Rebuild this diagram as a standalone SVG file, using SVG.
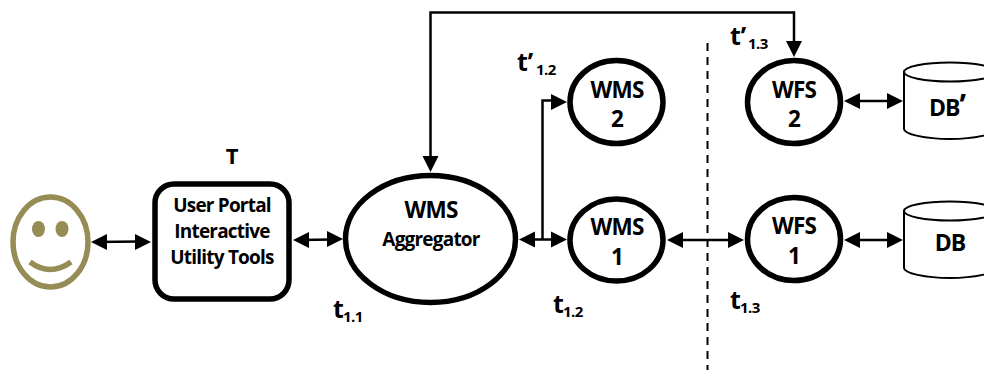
<svg xmlns="http://www.w3.org/2000/svg" width="984" height="370" viewBox="0 0 984 370">
<style>
text{font-family:"Open Sans","Noto Sans","Liberation Sans",sans-serif;font-weight:700;fill:#000;text-anchor:middle}
.n{font-size:22.500px;letter-spacing:-.8px}
.s{font-size:19px;letter-spacing:-.8px}
.t{font-size:25px;text-anchor:start}
.sub{font-size:15px;text-anchor:start;letter-spacing:-.5px}
.shape{fill:#fff;stroke:#000;stroke-width:5.500}
.cyl{fill:#fff;stroke:#000;stroke-width:2}
.c{fill:none;stroke:#000;stroke-width:2.500}
.a{fill:#000;stroke:none}
</style>
<defs>
<path id="r" class="a" d="M0 0L-16 -8V8Z"/>
<path id="l" class="a" d="M0 0L16 -8V8Z"/>
</defs>
<g id="connectors">
<path class="c" d="M95 242L140 241.500"/><use href="#l" x="91" y="242"/><use href="#r" x="151" y="242"/>
<path class="c" d="M298 240L334 239.500"/><use href="#l" x="293" y="240"/><use href="#r" x="343" y="239"/>
<path class="c" d="M528 239.500H558"/><use href="#l" x="519" y="239.500"/><use href="#r" x="567" y="239.500"/>
<path class="c" d="M542.500 239V100.500H556"/><use href="#r" x="567" y="102"/>
<path class="c" d="M430.500 160V12.500H794V45"/><use href="#r" transform="translate(430.500 172) rotate(90)"/><use href="#r" transform="translate(794 57) rotate(90)"/>
<path class="c" d="M675 240H736"/><use href="#l" x="667" y="240"/><use href="#r" x="744" y="240"/>
<path class="c" d="M852 240H896"/><use href="#l" x="844" y="240"/><use href="#r" x="903" y="240"/>
<path class="c" d="M852 101H896"/><use href="#l" x="844" y="101"/><use href="#r" x="903" y="101"/>
<path d="M707.500 43V370" fill="none" stroke="#000" stroke-width="2" stroke-dasharray="8 6"/>
</g>
<g id="user">
<ellipse cx="50.500" cy="242" rx="37.500" ry="45" fill="#fff" stroke="#968c55" stroke-width="5.500"/>
<ellipse cx="38.500" cy="229" rx="6.500" ry="8" fill="#968c55"/>
<ellipse cx="62" cy="229" rx="6.500" ry="8" fill="#968c55"/>
<path d="M30 262Q50 277 71 262" fill="none" stroke="#968c55" stroke-width="5.500"/>
</g>
<g id="portal">
<rect class="shape" x="155" y="184" width="134" height="115" rx="19"/>
<text class="s" x="222" y="212">User Portal</text>
<text class="s" x="222" y="238">Interactive</text>
<text class="s" x="222" y="264">Utility Tools</text>
</g>
<text x="232" y="164" style="font-size:22px">T</text>
<g id="aggregator">
<ellipse class="shape" cx="430.500" cy="239" rx="85" ry="63.500"/>
<text class="n" x="431" y="218">WMS</text>
<text class="s" x="431" y="246">Aggregator</text>
</g>
<g id="wms2">
<ellipse class="shape" cx="616.500" cy="102" rx="46.500" ry="41.500"/>
<text class="n" x="617" y="98">WMS</text>
<text class="n" x="617" y="127">2</text>
</g>
<g id="wms1">
<ellipse class="shape" cx="616.500" cy="240" rx="46.500" ry="41"/>
<text class="n" x="617" y="235">WMS</text>
<text class="n" x="617" y="265">1</text>
</g>
<g id="wfs2">
<ellipse class="shape" cx="794" cy="102" rx="46.500" ry="41.500"/>
<text class="n" x="794" y="98">WFS</text>
<text class="n" x="794" y="127">2</text>
</g>
<g id="wfs1">
<ellipse class="shape" cx="794" cy="239" rx="46.500" ry="41.500"/>
<text class="n" x="794" y="234">WFS</text>
<text class="n" x="794" y="264">1</text>
</g>
<g id="db2">
<path class="cyl" d="M904 72V129C904 134 925 139 950 139S996 134 996 129V72"/>
<ellipse class="cyl" cx="950" cy="72" rx="46" ry="9.500"/>
<text x="929" y="116" style="font-size:23px;text-anchor:start;letter-spacing:-1px">DB<tspan style="font-size:30px">’</tspan></text>
</g>
<g id="db1">
<path class="cyl" d="M904 211V268C904 273 925 278 950 278S996 273 996 268V211"/>
<ellipse class="cyl" cx="950" cy="211" rx="46" ry="9.500"/>
<text x="950" y="251" style="font-size:23px;letter-spacing:-1px">DB</text>
</g>
<g id="labels">
<text class="t" x="333" y="318">t<tspan class="sub" x="343" y="322">1.1</tspan></text>
<text class="t" x="553" y="313">t<tspan class="sub" x="563" y="317">1.2</tspan></text>
<text class="t" x="730" y="309">t<tspan class="sub" x="740" y="313">1.3</tspan></text>
<text class="t" x="517" y="71">t’<tspan class="sub" x="536" y="75">1.2</tspan></text>
<text class="t" x="730" y="45">t’<tspan class="sub" x="748" y="49">1.3</tspan></text>
</g>
</svg>
